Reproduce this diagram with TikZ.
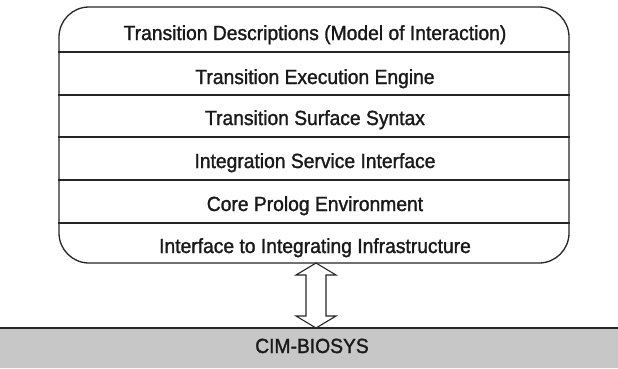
\documentclass[tikz,border=0pt]{standalone}
\usepackage{fontspec}
\setmainfont{Liberation Sans}
\newfontfamily\lblfont[FakeBold=1.4, FakeStretch=0.94]{Liberation Sans}
\usetikzlibrary{calc}
\begin{document}
\begin{tikzpicture}[x=1pt,y=-1pt,
  lbl/.style={anchor=base, inner sep=0pt, font=\lblfont\fontsize{20.5}{24}\selectfont, text=black!90},
  sep/.style={line width=1.2pt, draw=black!85},
  boxline/.style={line width=1.3pt, draw=black!85}]
\useasboundingbox (0,0) rectangle (618,368);
% bottom bar
\node[fill=black!22, inner sep=0pt, minimum width=618pt, minimum height=40pt, anchor=north west] (bar) at (0,328) {};
\draw[line width=2.2pt, black!85] (bar.north west) -- (bar.north east);
\node[lbl] (cim) at (312,353) {CIM-BIOSYS};
% stack box
\node[boxline, rounded corners=30pt, inner sep=0pt, minimum width=510pt, minimum height=256pt, fill=white] (stack) at (314,135) {};
\foreach \y in {52,95,137,180,223}
  \draw[sep] (stack.west |- 0,\y) -- (stack.east |- 0,\y);
\node[lbl] (r1) at (315,40) {Transition Descriptions (Model of Interaction)};
\node[lbl] (r2) at (315,84) {Transition Execution Engine};
\node[lbl] (r3) at (315,125) {Transition Surface Syntax};
\node[lbl] (r4) at (315,168) {Integration Service Interface};
\node[lbl] (r5) at (315,211) {Core Prolog Environment};
\node[lbl] (r6) at (315,253) {Interface to Integrating Infrastructure};
% double arrow
\coordinate (atip) at (316,263);
\coordinate (btip) at (316,328);
\draw[line width=1.1pt, black!85, fill=white, line join=miter]
  (atip) -- ++(20,12) -- ++(-10,0) -- ($(btip)+(10,-12)$) -- ++(10,0) -- (btip)
  -- ++(-20,-12) -- ++(10,0) -- ($(atip)+(-10,12)$) -- ++(-10,0) -- cycle;
\end{tikzpicture}
\end{document}
